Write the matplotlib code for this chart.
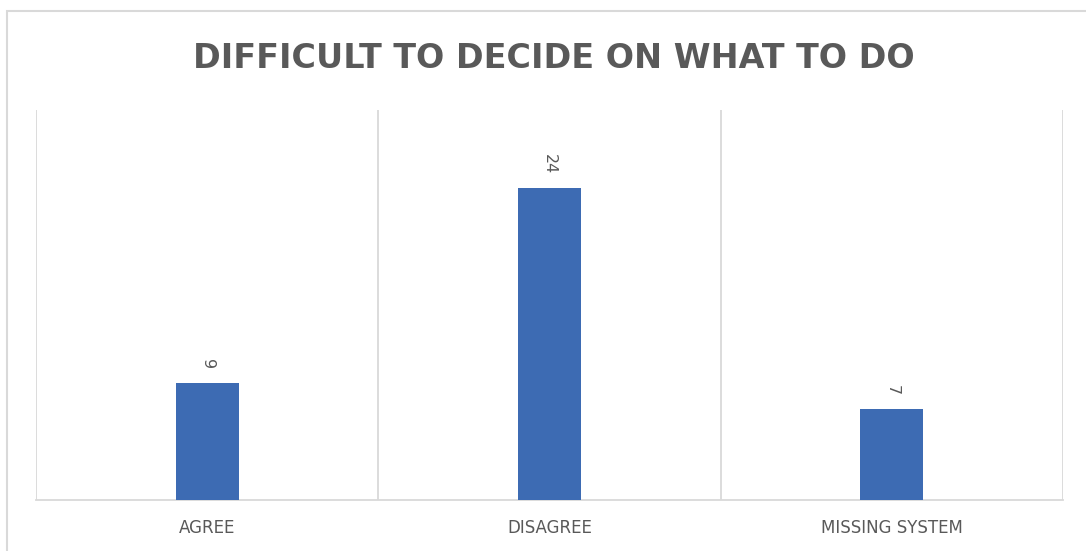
import matplotlib.pyplot as plt
from matplotlib.patches import Rectangle

categories = ['AGREE', 'DISAGREE', 'MISSING SYSTEM']
counts = [9, 24, 7]

title_text = 'DIFFICULT TO DECIDE ON WHAT TO DO'
grid_color = '#d9d9d9'
text_color = '#595959'
bar_color = '#3d6bb3'

fig = plt.figure(figsize=(10.86, 5.51), dpi=100)
ax = fig.add_axes([0.0331, 0.0926, 0.9457, 0.7078])

# Outer chart border (runs off the right and bottom edges)
fig.patches.append(Rectangle((7 / 1086, -0.1), 1.2, 0.98 + 0.1,
                             transform=fig.transFigure, fill=False,
                             edgecolor=grid_color, linewidth=1.5))

x = list(range(len(categories)))
bars = ax.bar(x, counts, width=0.184, color=bar_color, zorder=3)

ax.set_xlim(-0.5, len(categories) - 0.5)
ax.set_ylim(0, 30)

# Vertical separators between categories
for b in [i - 0.5 for i in range(len(categories) + 1)]:
    ax.axvline(b, color=grid_color, linewidth=1.3, zorder=1)

for side in ['top', 'right', 'left']:
    ax.spines[side].set_visible(False)
ax.spines['bottom'].set_color(grid_color)
ax.spines['bottom'].set_linewidth(1.3)

ax.set_yticks([])
ax.set_xticks(x)
ax.set_xticklabels(categories, fontsize=12, color=text_color, family='DejaVu Sans')
ax.tick_params(axis='x', length=0, pad=14)

# Data labels, rotated like the original
for rect, v in zip(bars, counts):
    ax.annotate(str(v), (rect.get_x() + rect.get_width() / 2, v),
                xytext=(0, 10), textcoords='offset points',
                ha='center', va='bottom', rotation=270,
                fontsize=11.5, color=text_color, family='DejaVu Sans')

fig.text(0.51, 0.893, title_text, ha='center', va='center',
         fontsize=24, fontweight='bold', color=text_color, family='DejaVu Sans')

fig.savefig('out.png', dpi=100, facecolor='white')
